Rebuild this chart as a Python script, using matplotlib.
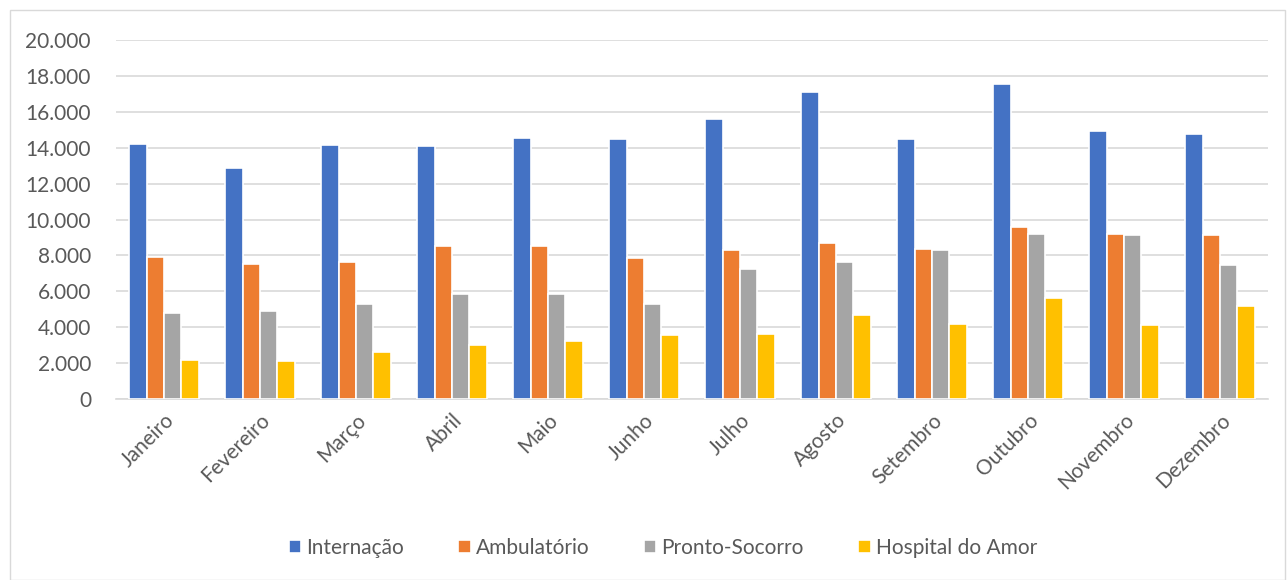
import numpy as np
import matplotlib.pyplot as plt
from matplotlib.patches import Rectangle

plt.rcParams['font.family'] = ['Lato', 'DejaVu Sans']

meses = ["Janeiro", "Fevereiro", "Março", "Abril", "Maio", "Junho", "Julho",
         "Agosto", "Setembro", "Outubro", "Novembro", "Dezembro"]
internacao = [14180, 12880, 14170, 14100, 14560, 14500, 15610, 17110, 14500, 17550, 14910, 14750]
ambulatorio = [7890, 7500, 7610, 8500, 8500, 7880, 8290, 8680, 8330, 9600, 9220, 9140]
pronto_socorro = [4810, 4880, 5270, 5850, 5850, 5280, 7220, 7650, 8310, 9220, 9140, 7460]
hospital_amor = [2200, 2090, 2610, 3000, 3210, 3550, 3600, 4660, 4160, 5620, 4150, 5190]

series = [("Internação", internacao, "#4472C4"),
          ("Ambulatório", ambulatorio, "#ED7D31"),
          ("Pronto-Socorro", pronto_socorro, "#A5A5A5"),
          ("Hospital do Amor", hospital_amor, "#FFC000")]

fig = plt.figure(figsize=(12.87, 5.8), dpi=100)
ax = fig.add_axes([116 / 1287, 1 - 399 / 580, 1152 / 1287, 359 / 580])

# moldura do grafico
fig.patches.append(Rectangle((10 / 1287, 0), 1 - 12 / 1287, 1 - 10 / 580,
                             transform=fig.transFigure, fill=False,
                             edgecolor="#d9d9d9", linewidth=1))

x = np.arange(len(meses))
w = 0.182
for i, (nome, vals, cor) in enumerate(series):
    ax.bar(x + (i - 1.5) * w, vals, width=w, color=cor, label=nome,
           edgecolor="white", linewidth=1.2, zorder=3)

ax.set_xlim(-0.5, len(meses) - 0.5)
ax.set_ylim(0, 20000)
ax.set_yticks(range(0, 20001, 2000))
ax.set_yticklabels([f"{v:,}".replace(",", ".") for v in range(0, 20001, 2000)])
ax.set_xticks(x)
ax.set_xticklabels(meses, rotation=45, ha="right", rotation_mode="anchor")
ax.tick_params(axis="both", length=0, labelsize=15, colors="#595959")
ax.tick_params(axis="y", pad=18)
ax.tick_params(axis="x", pad=8)
ax.grid(axis="y", color="#d9d9d9", linewidth=1.2, zorder=0)
for s in ["top", "right", "left"]:
    ax.spines[s].set_visible(False)
ax.spines["bottom"].set_color("#d9d9d9")
ax.spines["bottom"].set_linewidth(1.2)

fig.legend(loc="center", bbox_to_anchor=(0.515, 1 - 548 / 580), ncol=4,
           frameon=False, fontsize=15, handlelength=0.6, handleheight=0.6,
           handletextpad=0.25, columnspacing=2.6, labelcolor="#595959")

fig.savefig("out.png", dpi=100)
